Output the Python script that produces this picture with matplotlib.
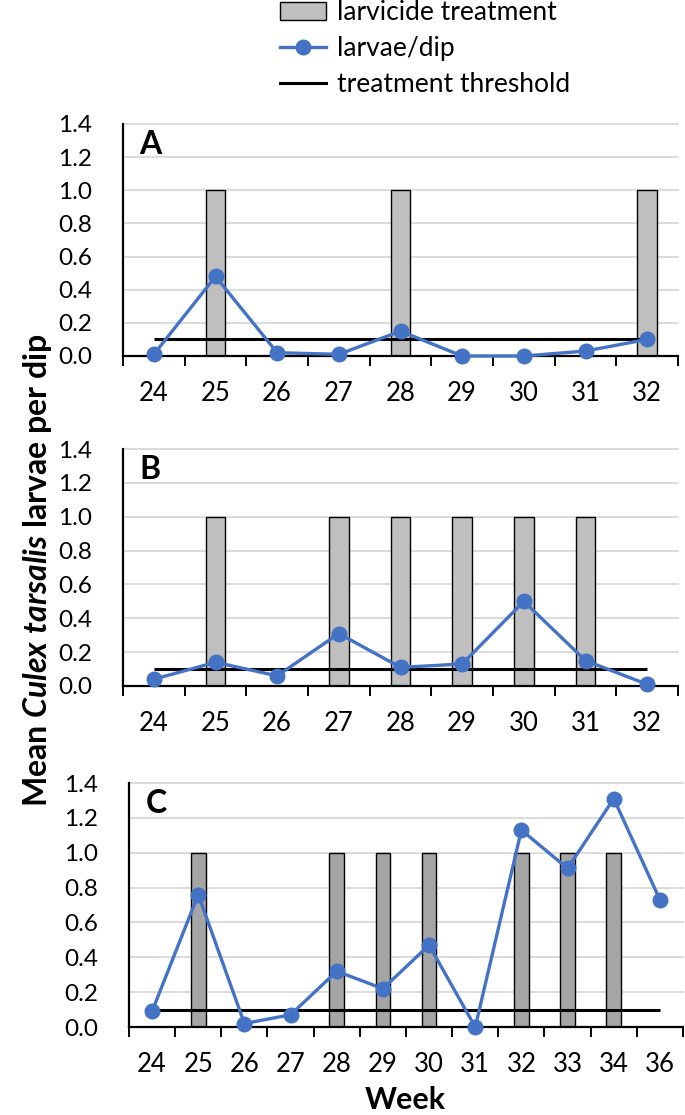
import matplotlib
matplotlib.use("Agg")
import matplotlib.pyplot as plt
from matplotlib.patches import Patch
from matplotlib.lines import Line2D

plt.rcParams['font.family'] = ['Lato', 'DejaVu Sans']
plt.rcParams['mathtext.fontset'] = 'custom'
plt.rcParams['mathtext.rm'] = 'Lato:bold'
plt.rcParams['mathtext.it'] = 'Lato:italic:bold'

# panel A
weeks_a = ["24", "25", "26", "27", "28", "29", "30", "31", "32"]
larvae_a = [0.01, 0.48, 0.02, 0.01, 0.15, 0.0, 0.0, 0.03, 0.10]
treat_a = [0, 1, 0, 0, 1, 0, 0, 0, 1]

# panel B
weeks_b = ["24", "25", "26", "27", "28", "29", "30", "31", "32"]
larvae_b = [0.04, 0.14, 0.06, 0.31, 0.11, 0.13, 0.50, 0.15, 0.01]
treat_b = [0, 1, 0, 1, 1, 1, 1, 1, 0]

# panel C
weeks_c = ["24", "25", "26", "27", "28", "29", "30", "31", "32", "33", "34", "36"]
larvae_c = [0.09, 0.76, 0.02, 0.07, 0.32, 0.22, 0.47, 0.0, 1.13, 0.91, 1.31, 0.73]
treat_c = [0, 1, 0, 0, 1, 1, 1, 0, 1, 1, 1, 0]

threshold = 0.1
yticks = [0.0, 0.2, 0.4, 0.6, 0.8, 1.0, 1.2, 1.4]

BLUE = "#4472c4"
W, H = 685, 1115

fig = plt.figure(figsize=(W / 100, H / 100), dpi=100)


def px_axes(left, right, top, bottom):
    return fig.add_axes([left / W, 1 - bottom / H, (right - left) / W, (bottom - top) / H])


def panel(ax, weeks, larvae, treat, letter, barcolor):
    n = len(weeks)
    x = list(range(n))
    ax.set_xlim(-0.5, n - 0.5)
    ax.set_ylim(0, 1.4)
    ax.set_yticks(yticks)
    ax.set_yticklabels(["{:.1f}".format(v) for v in yticks])
    ax.yaxis.grid(True, color="#d9d9d9", linewidth=1.3)
    ax.set_axisbelow(True)
    for gl in ax.get_ygridlines():
        gl.set_clip_on(False)

    ax.bar(x, treat, width=0.32, color=barcolor, edgecolor="black", linewidth=1.0, zorder=2)
    ax.hlines(threshold, 0, n - 1, color="black", linewidth=2.2, zorder=3)
    ax.plot(x, larvae, color=BLUE, linewidth=2.4, marker="o", markersize=10.5, zorder=4,
            clip_on=False)

    ax.set_xticks(x)
    ax.set_xticklabels(weeks)
    ax.set_xticks([i - 0.5 for i in range(n + 1)], minor=True)
    ax.tick_params(axis="x", which="major", length=0, pad=18, labelsize=18.5)
    ax.tick_params(axis="x", which="minor", length=7, width=1.4, color="black")
    ax.tick_params(axis="y", length=0, pad=22, labelsize=17.5)

    for s in ["top", "right"]:
        ax.spines[s].set_visible(False)
    for s in ["left", "bottom"]:
        ax.spines[s].set_linewidth(1.6)
        ax.spines[s].set_color("black")

    ax.text(0.03, 0.975, letter, transform=ax.transAxes, fontsize=23,
            fontweight="bold", va="top", ha="left")


ax_a = px_axes(123, 678, 124, 356)
panel(ax_a, weeks_a, larvae_a, treat_a, "A", "#bfbfbf")
ax_b = px_axes(123, 678, 449, 686)
panel(ax_b, weeks_b, larvae_b, treat_b, "B", "#bfbfbf")
ax_c = px_axes(129, 683, 783, 1027)
panel(ax_c, weeks_c, larvae_c, treat_c, "C", "#a5a5a5")

fig.text(405 / W, 1 - 1100 / H, "Week", fontsize=22, fontweight="bold",
         ha="center", va="center")
fig.text(38 / W, 1 - 570 / H, r"Mean $\mathit{Culex\ tarsalis}$ larvae per dip",
         fontsize=23, fontweight="bold", rotation=90, ha="center", va="center")

handles = [
    Patch(facecolor="#bfbfbf", edgecolor="black", linewidth=1.0),
    Line2D([], [], color=BLUE, linewidth=2.4, marker="o", markersize=10.5),
    Line2D([], [], color="black", linewidth=2.2),
]
labels = ["larvicide treatment", "larvae/dip", "treatment threshold"]
fig.legend(handles, labels, loc="upper left", bbox_to_anchor=(280 / W, 1 - 0 / H),
           frameon=False, fontsize=19, borderpad=0, borderaxespad=0,
           handlelength=1.75, handletextpad=0.4, labelspacing=0.42, numpoints=1)

fig.savefig("out.png", dpi=100)
